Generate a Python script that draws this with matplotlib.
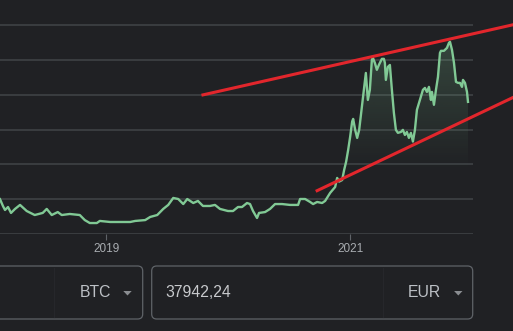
import numpy as np
import pandas as pd
import matplotlib
matplotlib.use("Agg")
import matplotlib.pyplot as plt
from matplotlib.patches import FancyBboxPatch, Polygon

# BTC price in EUR
dates = [
    "2018-02-17", "2018-02-26", "2018-03-04", "2018-03-13", "2018-03-22", "2018-04-03", "2018-04-18", "2018-05-08", "2018-06-01", "2018-06-25",
    "2018-07-07", "2018-07-22", "2018-08-09", "2018-08-21", "2018-09-14", "2018-10-14", "2018-10-29", "2018-11-13", "2018-12-04", "2018-12-13",
    "2019-01-13", "2019-02-12", "2019-03-14", "2019-03-29", "2019-04-28", "2019-05-13", "2019-06-03", "2019-06-21", "2019-07-06", "2019-07-21",
    "2019-08-05", "2019-08-20", "2019-09-01", "2019-09-19", "2019-10-03", "2019-10-18", "2019-11-08", "2019-11-23", "2019-12-08", "2020-01-01",
    "2020-01-16", "2020-01-31", "2020-02-12", "2020-02-27", "2020-03-07", "2020-03-16", "2020-03-28", "2020-04-03", "2020-04-21", "2020-05-06",
    "2020-05-21", "2020-06-11", "2020-07-05", "2020-07-29", "2020-08-04", "2020-08-19", "2020-09-03", "2020-09-12", "2020-09-24", "2020-10-09",
    "2020-10-18", "2020-11-02", "2020-11-17", "2020-11-23", "2020-11-29", "2020-12-08", "2020-12-14", "2020-12-20", "2020-12-26", "2021-01-01",
    "2021-01-07", "2021-01-10", "2021-01-16", "2021-01-22", "2021-01-28", "2021-02-03", "2021-02-11", "2021-02-17", "2021-02-23", "2021-03-01",
    "2021-03-07", "2021-03-10", "2021-03-16", "2021-03-22", "2021-03-28", "2021-04-06", "2021-04-12", "2021-04-15", "2021-04-18", "2021-04-24",
    "2021-04-30", "2021-05-06", "2021-05-12", "2021-05-18", "2021-05-24", "2021-06-02", "2021-06-08", "2021-06-14", "2021-06-20", "2021-06-26",
    "2021-07-02", "2021-07-08", "2021-07-14", "2021-07-20", "2021-07-29", "2021-08-07", "2021-08-13", "2021-08-19", "2021-08-25", "2021-08-31",
    "2021-09-03", "2021-09-09", "2021-09-15", "2021-09-21", "2021-09-27", "2021-09-30", "2021-10-09", "2021-10-18", "2021-10-24", "2021-10-27",
    "2021-11-02", "2021-11-08", "2021-11-14", "2021-11-20", "2021-11-26", "2021-12-02", "2021-12-05", "2021-12-11", "2021-12-17", "2021-12-20",
]
prices = [
    10000, 8000, 6900, 7750, 6050, 7200, 8350, 6600, 5450, 6050,
    7200, 5450, 6300, 5450, 5750, 5450, 4000, 3150, 3150, 3750,
    3450, 3450, 3450, 3750, 4000, 4900, 5450, 7200, 8350, 10350,
    10050, 8600, 10050, 8900, 9500, 8050, 8050, 8350, 7200, 6600,
    6600, 7750, 7750, 8900, 8600, 6600, 4600, 6050, 6300, 7200,
    8600, 8600, 8350, 8350, 10050, 10050, 9200, 8600, 9200, 8900,
    9500, 11800, 13500, 16100, 15050, 15500, 18400, 20800, 24150, 27950,
    32300, 33050, 29900, 27600, 29900, 34800, 41400, 46250, 38500, 41400,
    50000, 50600, 49150, 47150, 48550, 50300, 50300, 49150, 44250, 48000,
    48550, 41400, 34800, 29900, 29050, 29300, 29900, 28450, 29300, 27600,
    29050, 26550, 29900, 35650, 38500, 41400, 41950, 40800, 42250, 38500,
    40800, 37100, 41400, 45100, 52000, 52600, 52600, 53450, 54900, 55200,
    52900, 49150, 43700, 43400, 43400, 42250, 44250, 43400, 40800, 37942,
]

# hand-drawn trend channel
upper_dates = ["2019-10-18", "2022-05-03"]
upper_prices = [39950, 60070]
lower_dates = ["2020-09-24", "2022-05-03"]
lower_prices = [12440, 39170]

grid_levels = [0, 10000, 20000, 30000, 40000, 50000, 60000]
tick_dates = ["2019-01-01", "2021-01-01"]
tick_labels = ["2019", "2021"]

BG = "#202124"
GREEN = "#81c995"
RED = "#e2262c"
FONT = "Liberation Sans"

x = pd.to_datetime(dates)
y = np.array(prices, dtype=float)

fig = plt.figure(figsize=(5.13, 3.31), dpi=100)
fig.patch.set_facecolor(BG)

# pixel-space layer for the converter widgets
ui = fig.add_axes([0, 0, 1, 1], zorder=0)
ui.set_xlim(0, 513)
ui.set_ylim(331, 0)
ui.axis("off")

ax = fig.add_axes([0, 97 / 331, 473 / 513, 234 / 331], zorder=1)
ax.set_facecolor("none")
ax.set_xlim(pd.Timestamp("2018-02-17"), pd.Timestamp("2022-01-04"))
ax.set_ylim(0, 67200)
for s in ax.spines.values():
    s.set_visible(False)

for lv in grid_levels:
    ax.axhline(lv, color="#3c4043", lw=1.3, zorder=1)

# gradient fill under the line
poly = ax.fill_between(x, y, 0, color="none", lw=0)
levels = np.linspace(0, 67200, 300)
alpha = 0.22 * np.clip((levels - 18000) / (55000 - 18000), 0, 1)
rgba = np.zeros((300, 1, 4))
rgba[..., :3] = matplotlib.colors.to_rgb(GREEN)
rgba[:, 0, 3] = alpha
x0, x1 = ax.get_xlim()
im = ax.imshow(rgba, extent=[x0, x1, 0, 67200], origin="lower", aspect="auto", zorder=2)
im.set_clip_path(poly.get_paths()[0], transform=ax.transData)

ax.plot(x, y, color=GREEN, lw=1.7, zorder=3, solid_joinstyle="round")

ax.plot(pd.to_datetime(upper_dates), upper_prices, color=RED, lw=2.2, clip_on=False, zorder=4)
ax.plot(pd.to_datetime(lower_dates), lower_prices, color=RED, lw=2.2, clip_on=False, zorder=4)

ax.set_yticks([])
ax.set_xticks(pd.to_datetime(tick_dates))
ax.set_xticklabels(tick_labels, fontsize=8.5, color="#a9adb1", family=FONT)
ax.tick_params(axis="x", length=4.3, width=0.8, color="#5f6368", pad=2)
ax.set_xlim(x0, x1)

# currency converter boxes
for bx, bw in [(-10, 152.7), (151.7, 321)]:
    ui.add_patch(FancyBboxPatch((bx, 266), bw, 53, boxstyle="round,pad=0,rounding_size=5",
                                fc="none", ec="#5f6368", lw=0.9))
for sx in [54, 383]:
    ui.plot([sx, sx], [268, 317], color="#26272b", lw=0.8)
for tx in [127.5, 458.3]:
    ui.add_patch(Polygon([(tx - 4.2, 291), (tx + 4.2, 291), (tx, 295.5)], closed=True,
                         fc="#8a8d91", ec="none"))
ui.text(111, 292.5, "BTC", ha="right", va="center", fontsize=11.3, color="#bdc1c6", family=FONT)
ui.text(441, 292.5, "EUR", ha="right", va="center", fontsize=11.3, color="#bdc1c6", family=FONT)
ui.text(165, 292.5, "37942,24", ha="left", va="center", fontsize=11.3, color="#c8cacd", family=FONT)

fig.savefig("out.png", dpi=100, facecolor=BG)
